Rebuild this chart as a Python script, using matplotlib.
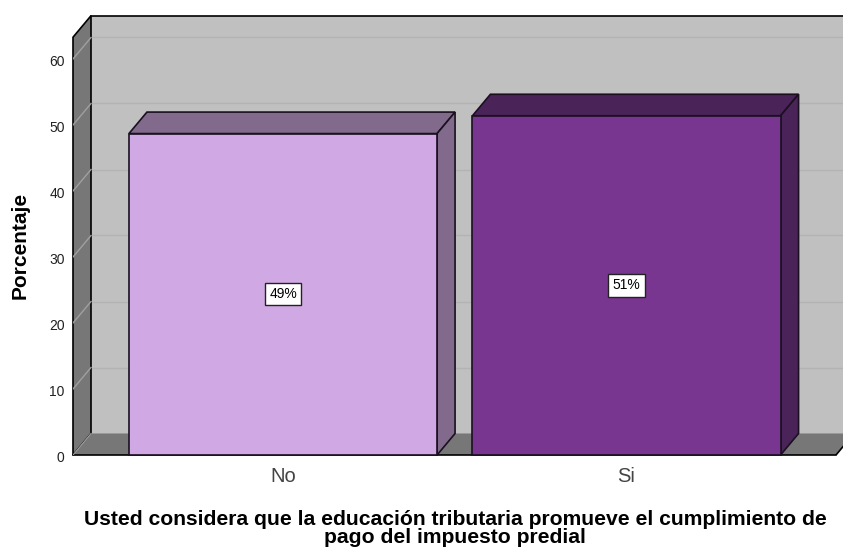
import matplotlib
matplotlib.use("Agg")
import matplotlib.pyplot as plt
from matplotlib.patches import Polygon
from matplotlib.transforms import ScaledTranslation

plt.rcParams["font.family"] = ["Liberation Sans", "DejaVu Sans"]

categorias = ["No", "Si"]
porcentajes = [48.7, 51.4]
etiquetas = ["49%", "51%"]
ticks_y = [0, 10, 20, 30, 40, 50, 60]
titulo_x = "Usted considera que la educación tributaria promueve el cumplimiento de\npago del impuesto predial"
titulo_y = "Porcentaje"

color_frente = ["#d0a9e4", "#783691"]
color_lado = ["#826a8c", "#4a2358"]

W, H = 843, 549
fig = plt.figure(figsize=(W / 100, H / 100), dpi=100)
ax = fig.add_axes([73 / W, (H - 455) / H, (W - 73) / W, 455 / H])

# escala: 343.5 px por categoria, 6.6 px por punto porcentual
x0 = -210 / 343.5
x1 = 560 / 343.5
ymax = 455 / 6.6
ax.set_xlim(x0, x1)
ax.set_ylim(0, ymax)

dx = 18 / 343.5
dy = 21.5 / 6.6
techo = 63.3
ancho = 0.897
fin_suelo = 553 / 343.5

## paredes y suelo
ax.add_patch(Polygon([(x0 + dx, dy), (x1 + dx, dy), (x1 + dx, techo + dy), (x0 + dx, techo + dy)],
                     fc="#c0c0c0", ec="none", zorder=1))
ax.add_patch(Polygon([(x0, 0), (x0, techo), (x0 + dx, techo + dy), (x0 + dx, dy)],
                     fc="#777777", ec="black", lw=1.2, zorder=3, clip_on=False))
ax.add_patch(Polygon([(x0, 0), (fin_suelo, 0), (fin_suelo + dx, dy), (x0 + dx, dy)],
                     fc="#777777", ec="none", zorder=3, clip_on=False))
ax.plot([x0, fin_suelo], [0, 0], color="black", lw=1.2, zorder=3, clip_on=False)
ax.plot([fin_suelo, fin_suelo + dx], [0, dy], color="black", lw=1.2, zorder=3)
ax.plot([x0 + dx, x1], [techo + dy, techo + dy], color="black", lw=1.2, zorder=3)

## lineas de la rejilla
for t in ticks_y:
    ax.plot([x0 + dx, x1], [t + dy, t + dy], color="#b3b3b3", lw=1, zorder=2)
    if t > 0:
        ax.plot([x0, x0 + dx], [t, t + dy], color="#a0a0a0", lw=1, zorder=4)
ax.plot([x0, x0 + dx], [0, dy], color="#a0a0a0", lw=0.8, zorder=4)

## barras
for i, v in enumerate(porcentajes):
    izq = i - ancho / 2
    der = i + ancho / 2
    ax.add_patch(Polygon([(izq, v), (der, v), (der + dx, v + dy), (izq + dx, v + dy)],
                         fc=color_lado[i], ec="#1a1020", lw=1.2, zorder=5, clip_on=False))
    ax.add_patch(Polygon([(der, 0), (der + dx, dy), (der + dx, v + dy), (der, v)],
                         fc=color_lado[i], ec="#1a1020", lw=1.2, zorder=5, clip_on=False))
    ax.text(i, v / 2, etiquetas[i], ha="center", va="center", fontsize=10, zorder=7,
            bbox=dict(boxstyle="square,pad=0.3", fc="white", ec="#222222", lw=1))

ax.bar(range(len(categorias)), porcentajes, width=ancho, color=color_frente,
       edgecolor="#1a1020", linewidth=1.2, zorder=6, clip_on=False)

for s in ax.spines.values():
    s.set_visible(False)
ax.set_xticks(range(len(categorias)))
ax.set_xticklabels(categorias, fontsize=14.5, color="#444444")
ax.set_yticks(ticks_y)
ax.set_yticklabels([str(t) for t in ticks_y], fontsize=10, color="#222222")
ax.tick_params(axis="x", length=0, pad=9)
ax.tick_params(axis="y", length=0, pad=6)
bajar = ScaledTranslation(0, -1.5 / 100, fig.dpi_scale_trans)
for lab in ax.get_yticklabels():
    lab.set_transform(lab.get_transform() + bajar)

fig.text(20 / W, 1 - 245.5 / H, titulo_y, rotation=90, ha="center", va="center",
         fontsize=15, fontweight="bold")
fig.text(455 / W, 1 - 528.5 / H, titulo_x, ha="center", va="center", fontsize=15.2,
         fontweight="bold", linespacing=0.95)

fig.savefig("out.png", dpi=100)
